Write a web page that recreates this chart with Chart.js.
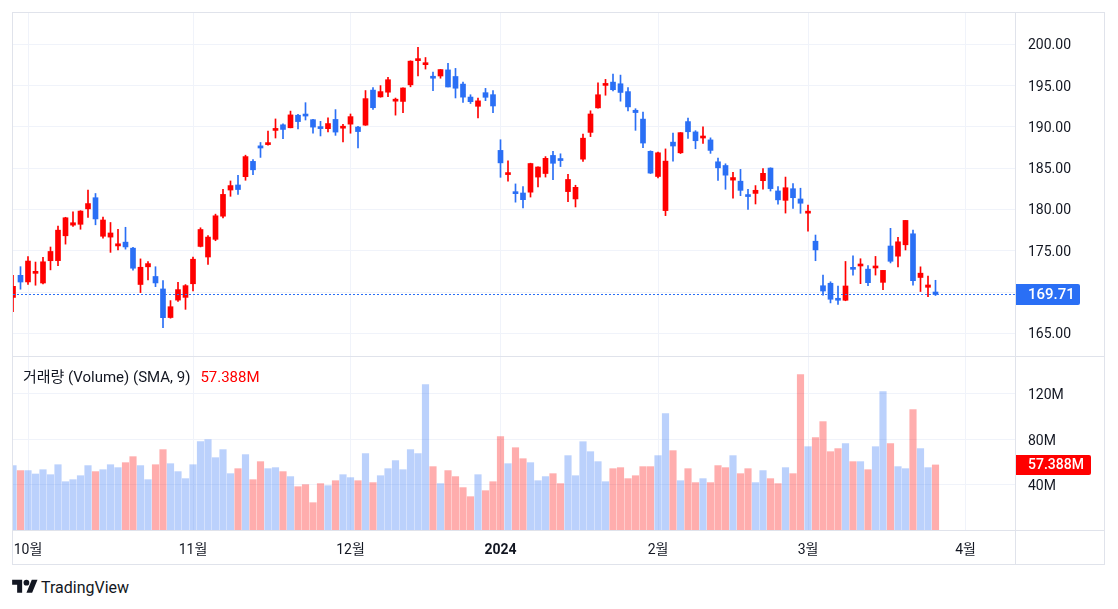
<!DOCTYPE html>
<html lang="ko">
<head>
<meta charset="utf-8">
<title>Chart</title>
<script src="https://cdn.jsdelivr.net/npm/chart.js@4.4.1/dist/chart.umd.min.js"></script>
<style>
  html, body { margin:0; padding:0; background:#ffffff; }
  body { width:1118px; height:609px; position:relative; overflow:hidden;
         font-family: Roboto, "Noto Sans CJK KR", sans-serif; color:#131722; }
  #frame { position:absolute; left:12px; top:12px; width:1093px; height:553px; border:1px solid #e0e3eb; box-sizing:border-box; }
  canvas { position:absolute; display:block; }
  #priceCanvas { left:13px; top:13px; }
  #volCanvas { left:13px; top:357px; }
  .line { position:absolute; background:#e0e3eb; }
  #legend { position:absolute; left:23px; top:368px; font-size:15px; line-height:18px; white-space:nowrap; color:#131722; }
  #legend .val { color:#ff0000; margin-left:10px; font-size:15px; }
  #logo { position:absolute; left:12px; top:577px; height:20px; display:flex; align-items:center; }
  #logo span { font-size:16px; margin-left:3px; color:#131722; }
</style>
</head>
<body>
<div id="frame"></div>
<canvas id="priceCanvas" width="1091" height="343"></canvas>
<canvas id="volCanvas" width="1091" height="207"></canvas>
<div class="line" style="left:13px;top:356px;width:1091px;height:1px"></div>
<div class="line" style="left:13px;top:530px;width:1091px;height:1px"></div>
<div class="line" style="left:1015px;top:13px;width:1px;height:551px"></div>
<div id="legend">거래량 (Volume) (SMA, 9)<span class="val" id="legendVal"></span></div>
<div id="logo"><svg width="26" height="20" viewBox="0 0 36 28"><path d="M14 22H7V11H0V4h14v18z" fill="#131722"/><circle cx="20" cy="8" r="4" fill="#131722"/><path d="M28 22h-8l7.5-18h8L28 22z" fill="#131722"/></svg><span>TradingView</span></div>
<script>
// ---------------- data ----------------
const dates = [
 '2023-09-28','2023-09-29',
 '2023-10-02','2023-10-03','2023-10-04','2023-10-05','2023-10-06','2023-10-09','2023-10-10','2023-10-11','2023-10-12','2023-10-13','2023-10-16','2023-10-17','2023-10-18','2023-10-19','2023-10-20','2023-10-23','2023-10-24','2023-10-25','2023-10-26','2023-10-27','2023-10-30','2023-10-31',
 '2023-11-01','2023-11-02','2023-11-03','2023-11-06','2023-11-07','2023-11-08','2023-11-09','2023-11-10','2023-11-13','2023-11-14','2023-11-15','2023-11-16','2023-11-17','2023-11-20','2023-11-21','2023-11-22','2023-11-24','2023-11-27','2023-11-28','2023-11-29','2023-11-30',
 '2023-12-01','2023-12-04','2023-12-05','2023-12-06','2023-12-07','2023-12-08','2023-12-11','2023-12-12','2023-12-13','2023-12-14','2023-12-15','2023-12-18','2023-12-19','2023-12-20','2023-12-21','2023-12-22','2023-12-26','2023-12-27','2023-12-28','2023-12-29',
 '2024-01-02','2024-01-03','2024-01-04','2024-01-05','2024-01-08','2024-01-09','2024-01-10','2024-01-11','2024-01-12','2024-01-16','2024-01-17','2024-01-18','2024-01-19','2024-01-22','2024-01-23','2024-01-24','2024-01-25','2024-01-26','2024-01-29','2024-01-30','2024-01-31',
 '2024-02-01','2024-02-02','2024-02-05','2024-02-06','2024-02-07','2024-02-08','2024-02-09','2024-02-12','2024-02-13','2024-02-14','2024-02-15','2024-02-16','2024-02-20','2024-02-21','2024-02-22','2024-02-23','2024-02-26','2024-02-27','2024-02-28','2024-02-29',
 '2024-03-01','2024-03-04','2024-03-05','2024-03-06','2024-03-07','2024-03-08','2024-03-11','2024-03-12','2024-03-13','2024-03-14','2024-03-15','2024-03-18','2024-03-19','2024-03-20','2024-03-21','2024-03-22','2024-03-25','2024-03-26'
];
const opens = [
 169.34,172.02,
 171.22,172.26,171.09,173.79,173.80,176.81,178.10,178.20,180.07,181.42,176.75,176.65,175.58,176.04,175.31,170.91,173.05,171.88,170.37,166.91,169.02,169.35,
 171.00,175.52,174.24,176.38,179.18,182.35,182.96,183.97,185.82,187.70,187.85,189.57,190.25,189.89,191.41,191.49,190.87,189.92,189.78,190.90,189.84,
 190.33,189.98,190.21,194.45,193.63,194.20,193.11,193.08,195.09,198.02,197.53,196.09,196.16,196.90,196.10,195.18,193.61,192.49,194.14,193.90,
 187.15,184.22,182.15,181.99,182.09,183.92,184.35,186.54,186.06,182.16,181.27,186.09,189.33,192.30,195.02,195.42,195.22,194.27,192.01,190.94,187.04,
 183.99,179.86,188.15,186.86,190.64,189.39,188.65,188.42,185.77,185.32,183.55,183.42,181.79,181.94,183.48,185.01,182.24,181.10,182.51,181.27,
 179.55,176.15,170.76,171.06,169.15,169.00,172.94,173.15,172.77,172.91,171.17,175.57,174.34,175.72,177.05,171.76,170.57,170.00
];
const highs = [
 172.03,173.07,
 174.30,173.63,174.21,175.45,177.99,179.05,179.72,179.85,182.34,181.93,179.08,178.42,177.58,177.84,175.42,174.01,173.67,173.06,171.38,168.96,171.17,170.90,
 174.23,177.78,176.82,179.43,182.44,183.45,184.12,186.57,186.03,188.11,189.50,190.96,190.38,191.91,191.52,192.93,190.90,190.67,191.08,192.09,190.32,
 191.56,190.05,194.40,194.76,195.00,195.99,193.49,194.72,198.00,199.62,198.40,196.63,196.95,197.68,197.08,195.41,193.89,193.50,194.66,194.40,
 188.44,185.88,183.09,182.76,185.60,185.15,186.40,187.05,186.74,184.26,182.93,189.14,191.95,195.33,195.75,196.38,196.27,194.76,192.20,191.80,187.10,
 186.95,187.33,189.25,189.31,191.05,189.54,189.99,188.67,186.21,185.53,184.49,184.85,182.43,182.89,184.96,185.04,182.76,183.92,183.12,182.57,
 180.53,176.90,172.04,171.24,170.73,173.70,174.38,174.03,173.19,174.31,172.62,177.71,176.61,178.67,177.49,173.05,171.94,171.42
];
const lows = [
 167.62,170.34,
 170.93,170.82,170.97,172.68,173.18,175.80,177.95,177.60,179.04,178.14,176.51,174.80,175.11,175.19,172.64,169.93,171.45,170.65,165.67,166.83,168.87,167.90,
 170.12,175.46,173.35,176.21,178.97,181.59,181.81,183.53,184.21,186.30,187.78,188.65,188.57,189.88,189.74,190.83,189.25,188.90,189.40,188.97,188.19,
 189.23,187.45,190.18,192.11,193.59,193.67,191.42,191.72,194.85,196.16,197.00,194.39,195.89,194.83,193.50,192.97,192.83,191.09,193.17,191.73,
 183.89,183.43,180.88,180.17,181.50,182.73,183.92,183.62,185.19,180.93,180.30,185.83,188.82,192.26,193.83,194.34,193.11,191.94,189.58,187.47,184.35,
 183.82,179.25,185.84,186.77,188.61,187.35,188.00,186.79,183.51,182.44,181.35,181.67,180.00,180.66,182.46,182.23,180.65,179.56,180.13,179.53,
 177.38,173.79,169.62,168.68,168.49,168.94,172.05,171.01,170.76,172.05,170.29,173.52,173.03,175.09,170.84,170.06,169.45,169.58
];
const closes = [
 170.69,171.21,
 173.75,172.40,173.66,174.91,177.49,178.99,178.39,179.80,180.71,178.85,178.72,177.15,175.84,175.46,172.88,173.00,173.44,171.10,166.89,168.22,170.29,170.77,
 173.97,177.57,176.65,179.23,181.82,182.89,182.41,186.40,184.80,187.44,188.01,189.71,189.69,191.45,190.64,191.31,189.97,189.79,190.40,189.37,189.95,
 191.24,189.43,193.42,192.32,194.27,195.71,193.18,194.71,197.96,198.11,197.57,195.89,196.94,194.83,194.68,193.60,193.05,193.15,193.58,192.53,
 185.64,184.25,181.91,181.18,185.56,185.14,186.19,185.59,185.92,183.63,182.68,188.63,191.56,193.89,195.18,194.50,194.17,192.42,191.73,188.04,184.40,
 186.86,185.85,187.68,189.30,189.41,188.32,188.85,187.15,185.04,184.15,183.86,182.31,181.56,182.32,184.37,182.52,181.16,182.63,181.42,180.75,
 179.66,175.10,170.12,169.12,169.00,170.73,172.75,173.23,171.13,173.00,172.62,173.72,176.08,178.67,171.37,172.28,170.85,169.71
];
// volume in millions
const volumes = [
 56.8,52.4,
 52.4,49.4,53.2,48.8,57.6,42.6,44.4,47.9,56.8,51.5,53.2,57.6,55.0,59.4,64.7,56.8,44.4,57.6,70.9,58.5,51.5,45.3,
 57.6,77.9,79.7,63.8,70.9,49.7,54.1,66.5,44.4,60.3,54.1,55.0,51.5,47.1,38.2,40.0,24.1,40.9,39.1,43.5,48.8,
 46.2,43.5,67.4,41.8,47.9,54.1,61.2,53.2,70.9,67.4,128.2,55.9,40.9,52.4,47.1,37.4,29.4,48.8,34.7,42.6,
 82.4,58.5,72.6,62.9,59.4,43.5,47.1,49.7,40.9,65.6,47.9,77.9,69.1,60.3,42.6,54.1,55.0,45.3,47.9,55.9,55.9,
 65.6,102.6,70.0,43.5,54.1,41.8,45.3,41.8,56.8,55.0,65.6,49.7,54.1,41.8,52.4,45.3,40.9,55.0,49.7,137.1,
 73.5,81.5,95.6,69.1,71.8,76.2,60.3,60.3,53.2,73.5,122.1,76.2,55.9,54.1,106.2,71.8,55.0,57.388
];
// month tick positions (bar index; 127 = first trading day of April, beyond last bar)
const monthTickPos = [2, 24, 45, 65, 86, 106, 127];
const monthTickLabels = ['10월','11월','12월','2024','2월','3월','4월'];
const priceTicks = [165, 170, 175, 180, 185, 190, 195, 200];
const volumeTicks = [40, 80, 120];

// ---------------- style ----------------
const UP = '#ff0000', DOWN = '#2a6ff5';
const UP_VOL = 'rgba(255,0,0,0.32)', DOWN_VOL = 'rgba(42,111,245,0.32)';
const FONT = 'Roboto, "Noto Sans CJK KR", sans-serif';
const TEXT = '#131722', GRID = '#f0f3fa';
const X_MIN = 0, X_MAX = 133.6;
const PRICE_MIN = 162.25, PRICE_MAX = 203.79;
const VOL_MAX = 152.6;

Chart.defaults.font.family = FONT;

const isUp = closes.map((c, i) => c >= opens[i]);
const candleColors = isUp.map(u => u ? UP : DOWN);
const volColors = isUp.map(u => u ? DOWN_VOL : UP_VOL);
const lastClose = closes[closes.length - 1];
const lastVol = volumes[volumes.length - 1];
document.getElementById('legendVal').textContent = lastVol.toFixed(3) + 'M';

function boxRight(ctx, x, y, w, h, r) {
  ctx.beginPath();
  ctx.moveTo(x, y);
  ctx.lineTo(x + w - r, y);
  ctx.quadraticCurveTo(x + w, y, x + w, y + r);
  ctx.lineTo(x + w, y + h - r);
  ctx.quadraticCurveTo(x + w, y + h, x + w - r, y + h);
  ctx.lineTo(x, y + h);
  ctx.closePath();
  ctx.fill();
}

const lastPricePlugin = {
  id: 'lastPrice',
  afterDatasetsDraw(chart) {
    const {ctx, chartArea, scales: {y}} = chart;
    const py = Math.round(y.getPixelForValue(lastClose)) + 0.5;
    ctx.save();
    ctx.strokeStyle = DOWN;
    ctx.lineWidth = 1;
    ctx.setLineDash([2, 2]);
    ctx.beginPath();
    ctx.moveTo(chartArea.left, py);
    ctx.lineTo(chartArea.right, py);
    ctx.stroke();
    ctx.restore();
  },
  afterDraw(chart) {
    const {ctx, chartArea, scales: {y}} = chart;
    const py = y.getPixelForValue(lastClose);
    const col = isUp[isUp.length - 1] ? UP : DOWN;
    ctx.save();
    ctx.fillStyle = col;
    boxRight(ctx, chartArea.right, Math.round(py) - 10, 65, 21, 2);
    ctx.fillStyle = '#ffffff';
    ctx.font = '500 15px ' + FONT;
    ctx.textBaseline = 'middle';
    ctx.textAlign = 'left';
    ctx.fillText(lastClose.toFixed(2), chartArea.right + 13, Math.round(py) + 1);
    ctx.restore();
  }
};

const volLabelPlugin = {
  id: 'volLabel',
  afterDraw(chart) {
    const {ctx, chartArea, scales: {y}} = chart;
    const py = y.getPixelForValue(lastVol);
    ctx.save();
    ctx.fillStyle = '#ff0000';
    boxRight(ctx, chartArea.right, Math.round(py) - 10, 76, 20, 2);
    ctx.fillStyle = '#ffffff';
    ctx.font = '500 14px ' + FONT;
    ctx.textBaseline = 'middle';
    ctx.textAlign = 'left';
    ctx.fillText(lastVol.toFixed(3) + 'M', chartArea.right + 13, Math.round(py) + 0.5);
    ctx.restore();
  }
};

const idx = closes.map((_, i) => i);

new Chart(document.getElementById('priceCanvas'), {
  type: 'bar',
  data: {
    datasets: [
      {
        label: 'body',
        data: idx.map(i => ({x: i, y: [Math.min(opens[i], closes[i]), Math.max(opens[i], closes[i])]})),
        backgroundColor: candleColors,
        barThickness: 5,
        minBarLength: 2,
        grouped: false,
        order: 0
      },
      {
        label: 'wick',
        data: idx.map(i => ({x: i, y: [lows[i], highs[i]]})),
        backgroundColor: candleColors,
        barThickness: 1,
        grouped: false,
        order: 1
      }
    ]
  },
  options: {
    responsive: false,
    animation: false,
    layout: {padding: 0},
    plugins: {legend: {display: false}, tooltip: {enabled: false}},
    scales: {
      x: {
        type: 'linear', min: X_MIN, max: X_MAX, offset: false,
        grid: {color: GRID, drawTicks: false, offset: false},
        border: {display: false},
        ticks: {display: false},
        afterBuildTicks: s => { s.ticks = monthTickPos.map(v => ({value: v})); },
        afterFit: s => { s.height = 0; s.paddingLeft = 0; s.paddingRight = 0; }
      },
      y: {
        position: 'right', min: PRICE_MIN, max: PRICE_MAX,
        grid: {color: GRID, drawTicks: false},
        border: {display: false},
        ticks: {color: TEXT, font: {size: 14}, padding: 13, labelOffset: 1.5, callback: v => Number(v).toFixed(2)},
        afterBuildTicks: s => { s.ticks = priceTicks.map(v => ({value: v})); },
        afterFit: s => { s.width = 89; s.paddingTop = 0; s.paddingBottom = 0; }
      }
    }
  },
  plugins: [lastPricePlugin]
});

new Chart(document.getElementById('volCanvas'), {
  type: 'bar',
  data: {
    datasets: [{
      label: 'volume',
      data: idx.map(i => ({x: i, y: volumes[i]})),
      backgroundColor: volColors,
      barThickness: 6.5,
      grouped: false
    }]
  },
  options: {
    responsive: false,
    animation: false,
    layout: {padding: 0},
    plugins: {legend: {display: false}, tooltip: {enabled: false}},
    scales: {
      x: {
        type: 'linear', min: X_MIN, max: X_MAX, offset: false,
        grid: {color: GRID, drawTicks: false, offset: false},
        border: {display: false},
        ticks: {
          color: TEXT, padding: 12, autoSkip: false, maxRotation: 0, minRotation: 0,
          font: c => ({size: 14, weight: monthTickLabels[c.index] === '2024' ? 'bold' : 'normal'}),
          callback: (v, i) => monthTickLabels[i]
        },
        afterBuildTicks: s => { s.ticks = monthTickPos.map(v => ({value: v})); },
        afterFit: s => { s.height = 34; s.paddingLeft = 0; s.paddingRight = 0; }
      },
      y: {
        position: 'right', min: 0, max: VOL_MAX,
        grid: {color: GRID, drawTicks: false},
        border: {display: false},
        ticks: {color: TEXT, font: {size: 14}, padding: 13, labelOffset: 2, callback: v => v + 'M'},
        afterBuildTicks: s => { s.ticks = volumeTicks.map(v => ({value: v})); },
        afterFit: s => { s.width = 89; s.paddingTop = 0; s.paddingBottom = 0; }
      }
    }
  },
  plugins: [volLabelPlugin]
});
</script>
</body>
</html>
